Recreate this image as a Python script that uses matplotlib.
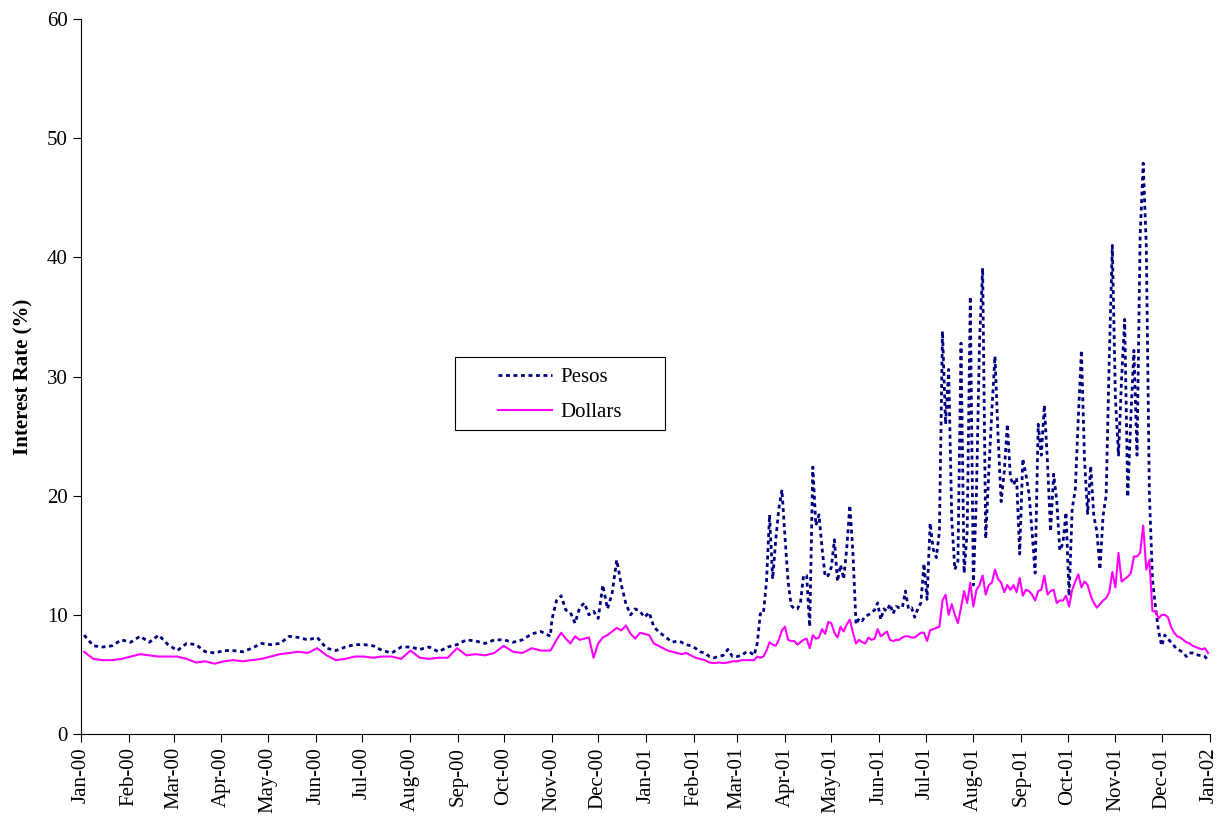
import numpy as np
import pandas as pd
import matplotlib
matplotlib.use('Agg')
import matplotlib.pyplot as plt
import matplotlib.dates as mdates
from matplotlib.patches import Rectangle

# values, three stretches with different sampling
# 2000-01-03 .. 2000-10-31
pesos_1 = [8.3, 7.4, 7.3, 7.4, 7.9, 7.7, 8.2, 7.7, 8.3, 7.5,
           7.0, 7.6, 7.5, 6.9, 6.8, 7.0, 7.0, 6.9, 7.2, 7.6,
           7.5, 7.6, 8.2, 8.1, 7.9, 8.1, 7.2, 7.0, 7.3, 7.5,
           7.5, 7.4, 7.0, 6.8, 7.3, 7.3, 7.1, 7.3, 6.9, 7.3,
           7.5, 7.9, 7.8, 7.6, 7.9, 7.9, 7.7, 7.9, 8.4, 8.6,
           8.2]
dollars_1 = [6.9, 6.3, 6.2, 6.2, 6.3, 6.5, 6.7, 6.6, 6.5, 6.5,
             6.5, 6.3, 6.0, 6.1, 5.9, 6.1, 6.2, 6.1, 6.2, 6.3,
             6.5, 6.7, 6.8, 6.9, 6.8, 7.2, 6.6, 6.2, 6.3, 6.5,
             6.5, 6.4, 6.5, 6.5, 6.3, 7.0, 6.4, 6.3, 6.4, 6.4,
             7.2, 6.6, 6.7, 6.6, 6.8, 7.4, 6.9, 6.8, 7.2, 7.0,
             7.0]
# 2000-11-01 .. 2001-03-10
pesos_2 = [9.6, 11.2, 11.6, 10.4, 10.2, 9.3, 10.6, 11.0, 10.0, 10.3,
           9.7, 12.5, 10.5, 11.8, 14.6, 12.5, 10.9, 10.0, 10.5, 10.3,
           9.8, 10.2, 9.0, 8.6, 8.3, 8.0, 7.7, 7.8, 7.7, 7.5,
           7.4, 7.2, 6.9, 6.8, 6.5, 6.4, 6.5, 6.6, 7.1, 6.5,
           6.5, 6.6, 6.9, 6.8]
dollars_2 = [7.2, 7.9, 8.5, 8.0, 7.6, 8.2, 7.9, 8.0, 8.1, 6.4,
             7.6, 8.1, 8.3, 8.6, 8.9, 8.7, 9.1, 8.4, 8.0, 8.5,
             8.4, 8.3, 7.6, 7.4, 7.2, 7.0, 6.9, 6.8, 6.7, 6.8,
             6.6, 6.4, 6.3, 6.2, 6.0, 5.95, 6.0, 5.95, 6.0, 6.1,
             6.1, 6.2, 6.2, 6.2]
# 2001-03-12 .. 2001-12-31
pesos_3 = [6.6, 7.6, 10.1, 10.1, 12.8, 18.4, 13.0, 16.3, 18.9, 20.5,
           16.5, 12.8, 10.8, 10.5, 10.5, 11.0, 13.3, 13.3, 9.0, 22.4,
           17.5, 18.4, 15.6, 13.2, 13.3, 14.0, 16.3, 12.8, 14.2, 13.0,
           15.6, 19.2, 15.2, 9.2, 9.7, 9.5, 9.9, 10.0, 10.2, 10.4,
           11.0, 9.6, 10.5, 10.3, 10.9, 10.1, 10.7, 10.6, 10.6, 12.0,
           10.5, 10.6, 9.8, 10.5, 11.0, 14.3, 11.3, 17.7, 15.5, 14.8,
           17.0, 33.8, 26.0, 30.6, 18.0, 13.8, 14.5, 32.8, 13.5, 17.0,
           36.7, 12.5, 20.2, 33.0, 39.1, 16.4, 22.0, 27.2, 31.7, 25.0,
           19.5, 22.0, 26.0, 21.5, 20.9, 21.5, 15.1, 23.1, 21.8, 20.2,
           17.0, 13.5, 26.0, 23.4, 27.6, 22.8, 17.0, 21.8, 19.6, 15.4,
           16.0, 18.6, 11.6, 18.9, 20.5, 26.6, 32.2, 23.0, 18.5, 22.5,
           18.3, 17.0, 13.8, 18.3, 20.0, 31.4, 41.0, 28.2, 23.4, 29.8,
           34.8, 19.9, 26.6, 32.2, 23.4, 41.7, 47.9, 41.0, 20.2, 13.0,
           10.6, 8.6, 7.4, 8.3, 8.0, 7.7, 7.4, 7.1, 7.0, 6.8,
           6.5, 6.8, 6.8, 6.7, 6.6, 6.6, 6.5, 6.2]
dollars_3 = [6.2, 6.5, 6.4, 6.5, 7.0, 7.7, 7.5, 7.4, 7.9, 8.7,
             9.0, 7.9, 7.8, 7.8, 7.5, 7.7, 7.9, 8.0, 7.2, 8.3,
             8.0, 8.1, 8.8, 8.4, 9.4, 9.3, 8.5, 8.1, 9.0, 8.6,
             9.2, 9.6, 8.5, 7.6, 7.9, 7.7, 7.6, 8.1, 7.9, 8.0,
             8.8, 8.2, 8.4, 8.6, 7.9, 7.8, 7.9, 7.9, 8.1, 8.2,
             8.2, 8.1, 8.1, 8.3, 8.5, 8.5, 7.8, 8.7, 8.8, 8.9,
             9.0, 11.2, 11.7, 10.0, 10.9, 10.0, 9.3, 10.6, 12.0, 11.0,
             12.7, 10.7, 12.1, 12.5, 13.3, 11.7, 12.5, 12.7, 13.8, 13.0,
             12.7, 11.9, 12.5, 12.1, 12.5, 11.9, 13.1, 11.6, 12.1, 12.0,
             11.7, 11.2, 12.0, 12.1, 13.3, 11.7, 12.0, 12.1, 11.0, 11.2,
             11.2, 11.6, 10.7, 12.1, 12.8, 13.4, 12.3, 12.8, 12.5, 11.6,
             11.0, 10.6, 10.9, 11.2, 11.4, 11.9, 13.6, 12.3, 15.2, 12.8,
             13.0, 13.2, 13.5, 14.9, 14.9, 15.2, 17.5, 13.8, 14.6, 10.3,
             10.3, 9.7, 10.0, 10.0, 9.8, 9.0, 8.5, 8.2, 8.1, 7.9,
             7.7, 7.6, 7.4, 7.3, 7.2, 7.1, 7.2, 6.8]

spans = [('2000-01-03', '2000-10-31'),
         ('2000-11-01', '2001-03-10'),
         ('2001-03-12', '2001-12-31')]


def build_series(parts):
    dates = []
    vals = []
    for (start, end), v in zip(spans, parts):
        dates.extend(pd.date_range(start, end, periods=len(v)))
        vals.extend(v)
    return pd.Series(vals, index=pd.DatetimeIndex(dates))


pesos = build_series([pesos_1, pesos_2, pesos_3])
dollars = build_series([dollars_1, dollars_2, dollars_3])

plt.rcParams['font.family'] = ['Liberation Serif', 'DejaVu Serif']

fig = plt.figure(figsize=(12.31, 8.38), dpi=100)
ax = fig.add_axes([0.0658, 0.1241, 0.9168, 0.8532])

ax.plot(pesos.index, pesos.values, color='#000080', lw=2.0,
        linestyle=(0, (1.4, 1.3)), label='Pesos')
ax.plot(dollars.index, dollars.values, color='#FF00FF', lw=1.5,
        label='Dollars')

ax.set_ylim(0, 60)
ax.set_yticks(np.arange(0, 61, 10))
ax.set_xlim(pd.Timestamp('2000-01-01'), pd.Timestamp('2002-01-01'))
ax.set_xticks(pd.date_range('2000-01-01', '2002-01-01', freq='MS'))
ax.xaxis.set_major_formatter(mdates.DateFormatter('%b-%y'))
ax.tick_params(axis='x', rotation=90, labelsize=15, length=6, direction='out')
ax.tick_params(axis='y', labelsize=15, length=6, direction='out')

ax.spines['top'].set_visible(False)
ax.spines['right'].set_visible(False)
ax.set_ylabel('Interest Rate (%)', fontsize=15, fontweight='bold', labelpad=10)

# legend box drawn separately so it can be wider than the entries
ax.add_patch(Rectangle((0.3316, 0.4252), 0.1861, 0.1021, transform=ax.transAxes,
                       facecolor='white', edgecolor='black', lw=0.8, zorder=4))
leg = ax.legend(loc='center', bbox_to_anchor=(0.4246, 0.474), fontsize=15,
                frameon=False, handlelength=2.6, handletextpad=0.4,
                borderpad=0.6, labelspacing=0.75)
leg.set_zorder(5)

fig.savefig('out.png', dpi=100)
